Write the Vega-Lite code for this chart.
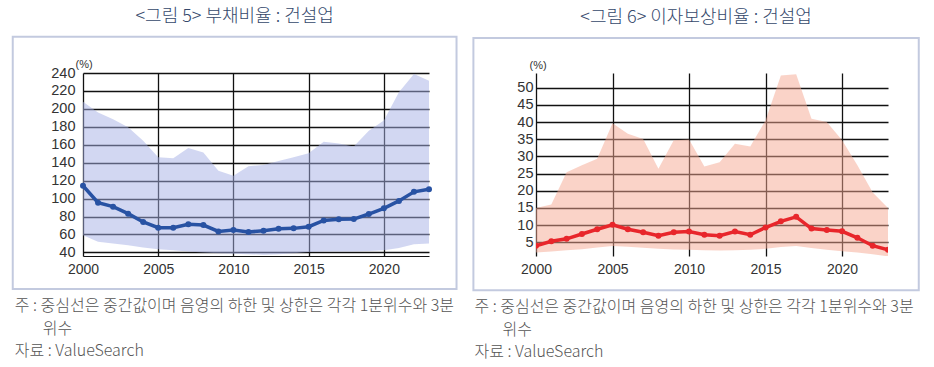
{
  "$schema": "https://vega.github.io/schema/vega-lite/v6.json",
  "padding": {"left": 11, "top": 7, "right": 0, "bottom": 0},
  "background": "white",
  "config": {
    "view": {"stroke": null},
    "font": "Liberation Sans",
    "axis": {
      "labelFont": "Liberation Sans",
      "labelFontSize": 14,
      "labelColor": "#333333",
      "labelFlush": false,
      "ticks": false,
      "grid": true,
      "gridColor": "#111111",
      "gridWidth": 1.3,
      "gridOpacity": 1
    }
  },
  "datasets": {
    "debt": [
      {"year": 2000, "median": 114.3, "q1": 59, "q3": 208},
      {"year": 2001, "median": 95.5, "q1": 52, "q3": 196},
      {"year": 2002, "median": 91, "q1": 50, "q3": 188.5},
      {"year": 2003, "median": 83.2, "q1": 48, "q3": 179.5},
      {"year": 2004, "median": 73.9, "q1": 45.5, "q3": 164.5},
      {"year": 2005, "median": 67.5, "q1": 43.5, "q3": 146},
      {"year": 2006, "median": 67.5, "q1": 42.5, "q3": 145},
      {"year": 2007, "median": 71.3, "q1": 41, "q3": 156.5},
      {"year": 2008, "median": 70.5, "q1": 40, "q3": 151.5},
      {"year": 2009, "median": 63.4, "q1": 39, "q3": 131},
      {"year": 2010, "median": 64.9, "q1": 38.5, "q3": 125.5},
      {"year": 2011, "median": 62.7, "q1": 38, "q3": 136},
      {"year": 2012, "median": 64.2, "q1": 37.5, "q3": 137.5},
      {"year": 2013, "median": 66.4, "q1": 38, "q3": 142},
      {"year": 2014, "median": 66.8, "q1": 39, "q3": 146},
      {"year": 2015, "median": 68.7, "q1": 40.5, "q3": 150.5},
      {"year": 2016, "median": 75.7, "q1": 41, "q3": 163.5},
      {"year": 2017, "median": 76.9, "q1": 41, "q3": 161.5},
      {"year": 2018, "median": 77.2, "q1": 41, "q3": 158},
      {"year": 2019, "median": 82.8, "q1": 41.5, "q3": 175.5},
      {"year": 2020, "median": 89.2, "q1": 42.5, "q3": 187},
      {"year": 2021, "median": 97.4, "q1": 45, "q3": 218.5},
      {"year": 2022, "median": 107.5, "q1": 49, "q3": 239},
      {"year": 2023, "median": 110.5, "q1": 50, "q3": 231.5}
    ],
    "icr": [
      {"year": 2000, "median": 4.0, "q1": 2.0, "q3": 15},
      {"year": 2001, "median": 5.3, "q1": 2.3, "q3": 16},
      {"year": 2002, "median": 6.0, "q1": 2.7, "q3": 25.4},
      {"year": 2003, "median": 7.4, "q1": 3.0, "q3": 27.4},
      {"year": 2004, "median": 8.8, "q1": 3.5, "q3": 29.3},
      {"year": 2005, "median": 10.1, "q1": 3.9, "q3": 39.7},
      {"year": 2006, "median": 8.8, "q1": 3.7, "q3": 36.6},
      {"year": 2007, "median": 7.9, "q1": 3.4, "q3": 35.1},
      {"year": 2008, "median": 6.9, "q1": 3.1, "q3": 26.4},
      {"year": 2009, "median": 7.9, "q1": 2.9, "q3": 34.7},
      {"year": 2010, "median": 8.1, "q1": 2.8, "q3": 34.9},
      {"year": 2011, "median": 7.2, "q1": 2.7, "q3": 27.1},
      {"year": 2012, "median": 6.9, "q1": 2.6, "q3": 28.3},
      {"year": 2013, "median": 8.1, "q1": 2.7, "q3": 33.7},
      {"year": 2014, "median": 7.2, "q1": 2.8, "q3": 32.9},
      {"year": 2015, "median": 9.3, "q1": 3.1, "q3": 40.5},
      {"year": 2016, "median": 11.1, "q1": 3.6, "q3": 53.6},
      {"year": 2017, "median": 12.4, "q1": 3.9, "q3": 53.9},
      {"year": 2018, "median": 9.0, "q1": 3.3, "q3": 41},
      {"year": 2019, "median": 8.6, "q1": 2.8, "q3": 40},
      {"year": 2020, "median": 8.2, "q1": 2.4, "q3": 34.7},
      {"year": 2021, "median": 6.3, "q1": 2.0, "q3": 27.4},
      {"year": 2022, "median": 4.0, "q1": 1.5, "q3": 19.5},
      {"year": 2023, "median": 2.8, "q1": 0.9, "q3": 15}
    ]
  },
  "spacing": 14,
  "hconcat": [
    {
      "title": {
        "text": ["주 : 중심선은 중간값이며 음영의 하한 및 상한은 각각 1분위수와 3분", "\u200b\u3000\u2002\u2005위수", "자료 : ValueSearch"],
        "orient": "bottom", "anchor": "start", "frame": "bounds",
        "font": "Noto Sans CJK KR", "fontSize": 16, "fontWeight": 300, "color": "#555555",
        "lineHeight": 22.5, "baseline": "top", "offset": 8, "dx": 3
      },
      "vconcat": [
        {
          "title": {
            "text": "<그림 5> 부채비율 : 건설업",
            "anchor": "middle", "frame": "bounds",
            "font": "Noto Sans CJK KR", "fontSize": 18, "fontWeight": 300, "color": "#34486b",
            "offset": 10
          },
          "width": 346,
          "height": 183,
          "layer": [
            {
              "data": {"values": [{}]},
              "mark": {"type": "rect", "filled": false, "stroke": "#c3cadf", "strokeWidth": 2},
              "encoding": {
                "x": {"datum": 1995.33, "type": "quantitative", "scale": {"domain": [2000, 2023], "nice": false, "zero": false},
                  "axis": {"values": [2000, 2005, 2010, 2015, 2020], "format": "d", "title": null, "domain": true, "domainColor": "#111111", "domainWidth": 1, "labelPadding": 6}},
                "x2": {"datum": 2024.83},
                "y": {"datum": 280.5, "type": "quantitative", "scale": {"domain": [36, 240], "nice": false, "zero": false},
                  "axis": {"values": [40, 60, 80, 100, 120, 140, 160, 180, 200, 220, 240], "domain": false, "labelPadding": 8, "labelFont": "Liberation Sans Narrow, Liberation Sans", "labelFontSize": 14.5,
                    "title": "(%)", "titleAngle": 0, "titleAlign": "left", "titleBaseline": "alphabetic", "titleX": -8, "titleY": -6, "titleFontSize": 11, "titleFontWeight": "normal", "titleColor": "#333333", "titleFont": "Liberation Sans"}},
                "y2": {"datum": -0.8}
              }
            },
            {
              "data": {"name": "debt"},
              "mark": {"type": "area", "fill": "#a5afe5", "fillOpacity": 0.5, "clip": true},
              "encoding": {
                "x": {"field": "year", "type": "quantitative", "scale": {"domain": [2000, 2023], "nice": false, "zero": false},
                  "axis": {"values": [2000, 2005, 2010, 2015, 2020], "format": "d", "title": null, "domain": true, "domainColor": "#111111", "domainWidth": 1, "labelPadding": 6}},
                "y": {"field": "q3", "type": "quantitative", "scale": {"domain": [36, 240], "nice": false, "zero": false},
                  "axis": {"values": [40, 60, 80, 100, 120, 140, 160, 180, 200, 220, 240], "domain": false, "labelPadding": 8, "labelFont": "Liberation Sans Narrow, Liberation Sans", "labelFontSize": 14.5,
                    "title": "(%)", "titleAngle": 0, "titleAlign": "left", "titleBaseline": "alphabetic", "titleX": -8, "titleY": -6, "titleFontSize": 11, "titleFontWeight": "normal", "titleColor": "#333333", "titleFont": "Liberation Sans"}},
                "y2": {"field": "q1"}
              }
            },
            {
              "data": {"name": "debt"},
              "mark": {"type": "line", "color": "#2852a3", "strokeWidth": 3.5, "point": {"filled": true, "size": 36, "color": "#2852a3"}},
              "encoding": {
                "x": {"field": "year", "type": "quantitative", "scale": {"domain": [2000, 2023], "nice": false, "zero": false},
                  "axis": {"values": [2000, 2005, 2010, 2015, 2020], "format": "d", "title": null, "domain": true, "domainColor": "#111111", "domainWidth": 1, "labelPadding": 6}},
                "y": {"field": "median", "type": "quantitative", "scale": {"domain": [36, 240], "nice": false, "zero": false},
                  "axis": {"values": [40, 60, 80, 100, 120, 140, 160, 180, 200, 220, 240], "domain": false, "labelPadding": 8, "labelFont": "Liberation Sans Narrow, Liberation Sans", "labelFontSize": 14.5,
                    "title": "(%)", "titleAngle": 0, "titleAlign": "left", "titleBaseline": "alphabetic", "titleX": -8, "titleY": -6, "titleFontSize": 11, "titleFontWeight": "normal", "titleColor": "#333333", "titleFont": "Liberation Sans"}}
              }
            }
          ]
        }
      ]
    },
    {
      "title": {
        "text": ["주 : 중심선은 중간값이며 음영의 하한 및 상한은 각각 1분위수와 3분", "\u200b\u3000\u2002\u2005위수", "자료 : ValueSearch"],
        "orient": "bottom", "anchor": "start", "frame": "bounds",
        "font": "Noto Sans CJK KR", "fontSize": 16, "fontWeight": 300, "color": "#555555",
        "lineHeight": 22.5, "baseline": "top", "offset": 8, "dx": 2
      },
      "vconcat": [
        {
          "title": {
            "text": "<그림 6> 이자보상비율 : 건설업",
            "anchor": "middle", "frame": "bounds",
            "font": "Noto Sans CJK KR", "fontSize": 18, "fontWeight": 300, "color": "#34486b",
            "offset": 10
          },
          "width": 352,
          "height": 183,
          "layer": [
            {
              "data": {"values": [{}]},
              "mark": {"type": "rect", "filled": false, "stroke": "#c3cadf", "strokeWidth": 2},
              "encoding": {
                "x": {"datum": 1995.91, "type": "quantitative", "scale": {"domain": [2000, 2023], "nice": false, "zero": false},
                  "axis": {"values": [2000, 2005, 2010, 2015, 2020], "format": "d", "title": null, "domain": false, "labelPadding": 6}},
                "x2": {"datum": 2025.01},
                "y": {"datum": 64.5, "type": "quantitative", "scale": {"domain": [1, 54.3], "nice": false, "zero": false},
                  "axis": {"values": [5, 10, 15, 20, 25, 30, 35, 40, 45, 50], "domain": false, "labelPadding": 3, "labelFontSize": 14.5,
                    "title": "(%)", "titleAngle": 0, "titleAlign": "left", "titleBaseline": "alphabetic", "titleX": -7, "titleY": -5, "titleFontSize": 11, "titleFontWeight": "normal", "titleColor": "#333333", "titleFont": "Liberation Sans"}},
                "y2": {"datum": -9.0}
              }
            },
            {
              "data": {"name": "icr"},
              "mark": {"type": "area", "fill": "#f5a791", "fillOpacity": 0.5, "clip": true},
              "encoding": {
                "x": {"field": "year", "type": "quantitative", "scale": {"domain": [2000, 2023], "nice": false, "zero": false},
                  "axis": {"values": [2000, 2005, 2010, 2015, 2020], "format": "d", "title": null, "domain": false, "labelPadding": 6}},
                "y": {"field": "q3", "type": "quantitative", "scale": {"domain": [1, 54.3], "nice": false, "zero": false},
                  "axis": {"values": [5, 10, 15, 20, 25, 30, 35, 40, 45, 50], "domain": false, "labelPadding": 3, "labelFontSize": 14.5,
                    "title": "(%)", "titleAngle": 0, "titleAlign": "left", "titleBaseline": "alphabetic", "titleX": -7, "titleY": -5, "titleFontSize": 11, "titleFontWeight": "normal", "titleColor": "#333333", "titleFont": "Liberation Sans"}},
                "y2": {"field": "q1"}
              }
            },
            {
              "data": {"name": "icr"},
              "mark": {"type": "line", "color": "#e8262b", "strokeWidth": 3.5, "clip": true, "point": {"filled": true, "size": 36, "color": "#e8262b"}},
              "encoding": {
                "x": {"field": "year", "type": "quantitative", "scale": {"domain": [2000, 2023], "nice": false, "zero": false},
                  "axis": {"values": [2000, 2005, 2010, 2015, 2020], "format": "d", "title": null, "domain": false, "labelPadding": 6}},
                "y": {"field": "median", "type": "quantitative", "scale": {"domain": [1, 54.3], "nice": false, "zero": false},
                  "axis": {"values": [5, 10, 15, 20, 25, 30, 35, 40, 45, 50], "domain": false, "labelPadding": 3, "labelFontSize": 14.5,
                    "title": "(%)", "titleAngle": 0, "titleAlign": "left", "titleBaseline": "alphabetic", "titleX": -7, "titleY": -5, "titleFontSize": 11, "titleFontWeight": "normal", "titleColor": "#333333", "titleFont": "Liberation Sans"}}
              }
            }
          ]
        }
      ]
    }
  ]
}
